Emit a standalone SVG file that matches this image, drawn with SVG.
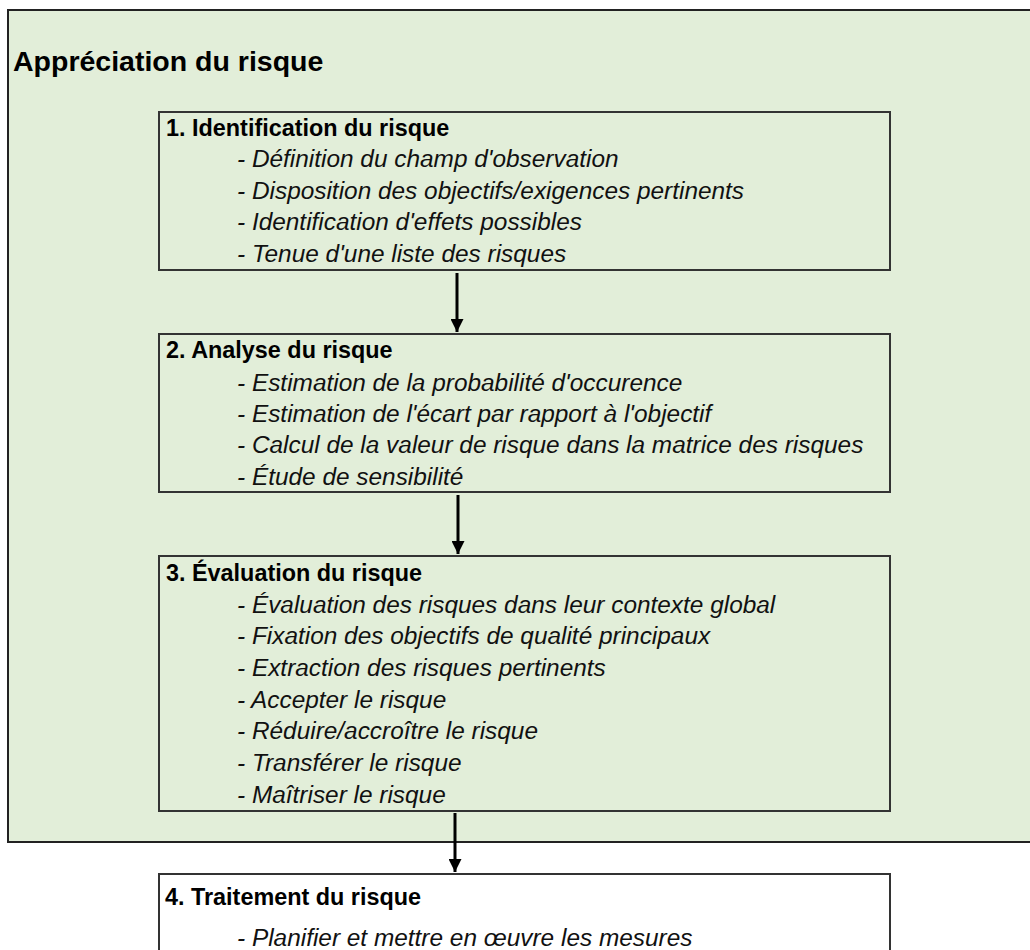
<svg xmlns="http://www.w3.org/2000/svg" width="1030" height="950" viewBox="0 0 1030 950">
<style>
.outer{fill:#e2eed9;stroke:#222;stroke-width:2}
.box{fill:none;stroke:#333;stroke-width:2}
.box4{fill:#fff;stroke:#333;stroke-width:2}
.title{font-family:"Liberation Sans",Arial,sans-serif;font-weight:bold;font-size:28.5px;fill:#000}
.hd{font-family:"Liberation Sans",Arial,sans-serif;font-weight:bold;font-size:23.4px;fill:#000}
.it{font-family:"Liberation Sans",Arial,sans-serif;font-style:italic;font-size:24.4px;fill:#111}
.conn{stroke:#000;stroke-width:3;fill:none;marker-end:url(#ah)}
</style>
<defs>
<marker id="ah" viewBox="0 0 10 10" refX="10" refY="5" markerUnits="userSpaceOnUse" markerWidth="13" markerHeight="13" orient="auto">
<path d="M0,0 L10,5 L0,10 z" fill="#000"/>
</marker>
</defs>
<g id="appreciation">
<rect class="outer" x="8" y="10" width="1040" height="832"/>
<text class="title" x="13" y="71">Appréciation du risque</text>
</g>
<g id="identification">
<rect class="box" x="159" y="112" width="731" height="158"/>
<text class="hd" x="166" y="136">1. Identification du risque</text>
<text class="it" x="237" y="167">- Définition du champ d'observation</text>
<text class="it" x="237" y="199">- Disposition des objectifs/exigences pertinents</text>
<text class="it" x="237" y="230">- Identification d'effets possibles</text>
<text class="it" x="237" y="262">- Tenue d'une liste des risques</text>
</g>
<g id="analyse">
<rect class="box" x="159" y="334" width="731" height="158"/>
<text class="hd" x="166" y="358">2. Analyse du risque</text>
<text class="it" x="237" y="391">- Estimation de la probabilité d'occurence</text>
<text class="it" x="237" y="422">- Estimation de l'écart par rapport à l'objectif</text>
<text class="it" x="237" y="453">- Calcul de la valeur de risque dans la matrice des risques</text>
<text class="it" x="237" y="485">- Étude de sensibilité</text>
</g>
<g id="evaluation">
<rect class="box" x="159" y="556" width="731" height="255"/>
<text class="hd" x="166" y="581">3. Évaluation du risque</text>
<text class="it" x="237" y="613">- Évaluation des risques dans leur contexte global</text>
<text class="it" x="237" y="644">- Fixation des objectifs de qualité principaux</text>
<text class="it" x="237" y="676">- Extraction des risques pertinents</text>
<text class="it" x="237" y="708">- Accepter le risque</text>
<text class="it" x="237" y="739">- Réduire/accroître le risque</text>
<text class="it" x="237" y="771">- Transférer le risque</text>
<text class="it" x="237" y="803">- Maîtriser le risque</text>
</g>
<g id="traitement">
<rect class="box4" x="159" y="874" width="731" height="120"/>
<text class="hd" x="165" y="905">4. Traitement du risque</text>
<text class="it" x="237" y="946">- Planifier et mettre en œuvre les mesures</text>
</g>
<g id="connectors">
<line class="conn" x1="457" y1="273" x2="457" y2="332"/>
<line class="conn" x1="458" y1="495" x2="458" y2="554"/>
<line class="conn" x1="455" y1="813" x2="455" y2="872"/>
</g>
</svg>
